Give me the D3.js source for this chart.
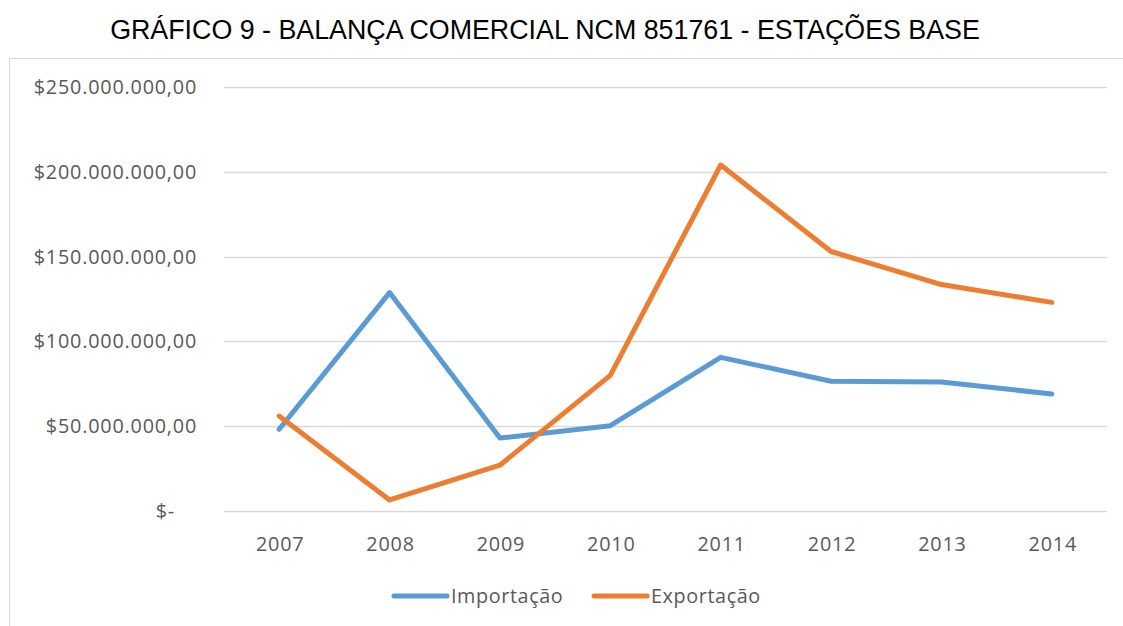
<!DOCTYPE html>
<html>
<head>
<meta charset="utf-8">
<script src="https://cdn.jsdelivr.net/npm/d3@7"></script>
<style>
  body { margin: 0; background: #fff; }
  svg { display: block; }
</style>
</head>
<body>
<svg id="chart"></svg>
<script>
// Data
const years = ["2007", "2008", "2009", "2010", "2011", "2012", "2013", "2014"];
const importacao = [48200000, 128800000, 43000000, 50300000, 90600000, 76500000, 76000000, 69000000];
const exportacao = [56000000, 6500000, 27000000, 80000000, 204000000, 153000000, 133500000, 123000000];
const yTicks = [0, 50000000, 100000000, 150000000, 200000000, 250000000];

const width = 1123;
const height = 626;
const margin = { top: 87, right: 16, bottom: 115, left: 224 };

const svg = d3.select("#chart")
    .attr("width", width)
    .attr("height", height);

// Outer chart border (extends past the frame, as in the reference)
svg.append("rect")
    .attr("x", 9.5)
    .attr("y", 58.5)
    .attr("width", width + 20)
    .attr("height", height + 20)
    .attr("fill", "none")
    .attr("stroke", "#d9d9d9");

svg.append("text")
    .attr("x", 545)
    .attr("y", 38.5)
    .attr("text-anchor", "middle")
    .attr("font-family", "Liberation Sans, Arial, sans-serif")
    .attr("font-size", 26.8)
    .attr("fill", "#000")
    .text("GRÁFICO 9 - BALANÇA COMERCIAL NCM 851761 - ESTAÇÕES BASE");

const x = d3.scaleBand()
    .domain(years)
    .range([margin.left, width - margin.right]);

const y = d3.scaleLinear()
    .domain([0, 250000000])
    .range([height - margin.bottom, margin.top]);

const fmt = v => v === 0 ? "$-" : "$" + d3.format(",")(v).replace(/,/g, ".") + ",00";

// Gridlines
svg.append("g")
    .selectAll("line")
    .data(yTicks)
    .enter().append("line")
    .attr("x1", margin.left)
    .attr("x2", width - margin.right)
    .attr("y1", d => Math.round(y(d)) + 0.5)
    .attr("y2", d => Math.round(y(d)) + 0.5)
    .attr("stroke", "#d9d9d9")
    .attr("stroke-width", 1.5);

const labelFont = "Open Sans, Noto Sans, sans-serif";

// Y axis labels
svg.append("g")
    .selectAll("text")
    .data(yTicks)
    .enter().append("text")
    .attr("x", d => d === 0 ? 175 : 197)
    .attr("y", d => y(d) + 7)
    .attr("text-anchor", "end")
    .attr("font-family", labelFont)
    .attr("font-size", 19.8)
    .attr("letter-spacing", 0.8)
    .attr("fill", "#595959")
    .text(fmt);

// X axis labels
svg.append("g")
    .selectAll("text")
    .data(years)
    .enter().append("text")
    .attr("x", d => x(d) + x.bandwidth() / 2 + 1)
    .attr("y", 551)
    .attr("text-anchor", "middle")
    .attr("font-family", labelFont)
    .attr("font-size", 19.8)
    .attr("letter-spacing", 0.8)
    .attr("fill", "#595959")
    .text(d => d);

const line = d3.line()
    .x((d, i) => x(years[i]) + x.bandwidth() / 2)
    .y(d => y(d));

const series = [
    { name: "Importação", values: importacao, color: "#5b9bd5" },
    { name: "Exportação", values: exportacao, color: "#ed7d31" }
];

svg.append("g")
    .selectAll("path")
    .data(series)
    .enter().append("path")
    .attr("d", d => line(d.values))
    .attr("fill", "none")
    .attr("stroke", d => d.color)
    .attr("stroke-width", 5)
    .attr("stroke-linejoin", "round")
    .attr("stroke-linecap", "round");

// Legend
const legendX = [394, 594];
const legend = svg.append("g")
    .selectAll("g")
    .data(series)
    .enter().append("g")
    .attr("transform", (d, i) => `translate(${legendX[i]},596)`);

legend.append("line")
    .attr("x1", 0)
    .attr("x2", 53)
    .attr("stroke", d => d.color)
    .attr("stroke-width", 5)
    .attr("stroke-linecap", "round");

legend.append("text")
    .attr("x", 57)
    .attr("y", 7)
    .attr("font-family", labelFont)
    .attr("font-size", 19.8)
    .attr("letter-spacing", 0.6)
    .attr("fill", "#595959")
    .text(d => d.name);
</script>
</body>
</html>
